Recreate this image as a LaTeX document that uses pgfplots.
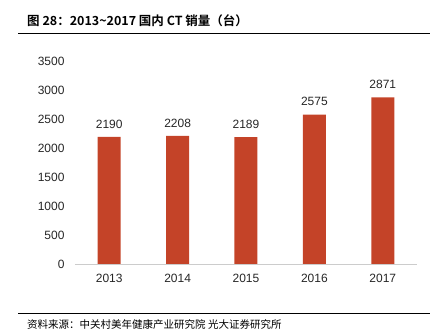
\documentclass[border=0pt]{standalone}
\usepackage{pgfplots}
\pgfplotsset{compat=1.18}
\usepackage{fontspec}
\setmainfont{Liberation Sans}
\newfontfamily\cjk{Noto Sans CJK SC}
\newfontfamily\cjkb{Noto Sans CJK SC Bold}
\definecolor{barc}{RGB}{196,67,40}
\begin{document}
\begin{tikzpicture}[x=1pt,y=1pt]
\path (0,0) rectangle (440,336);
\node[anchor=west,inner sep=0pt] at (27,315) {\cjkb\fontsize{12.5}{14}\selectfont 图 28：2013\textasciitilde2017 国内 CT 销量（台）};
\draw[black,line width=0.8pt] (18,303) -- (430,303);
\draw[black,line width=0.8pt] (18,23) -- (430,23);
\node[anchor=west,inner sep=0pt] at (27,11) {\cjk\fontsize{10.5}{12}\selectfont 资料来源：中关村美年健康产业研究院 光大证券研究所};
\begin{axis}[
  at={(75pt,72pt)}, anchor=south west,
  scale only axis, width=342pt, height=203pt,
  xmin=-0.5, xmax=4.5, ymin=0, ymax=3500,
  ytick={0,500,...,3500},
  xtick={0,1,2,3,4}, xticklabels={2013,2014,2015,2016,2017},
  extra x ticks={0.5,1.5,2.5,3.5}, extra x tick labels={},
  extra x tick style={major tick length=4pt, tick style={gray!40}, major tick style={yshift=-2pt}},
  axis x line*=bottom, axis y line*=left,
  x axis line style={gray!40, -},
  y axis line style={draw=none},
  major x tick style={draw=none},
  major y tick style={draw=none},
  yticklabel style={xshift=-7pt},
  xticklabel style={yshift=-7pt},
  ticklabel style={font=\fontsize{12}{14}\selectfont, text=black!85},
  /pgf/number format/assume math mode=true,
  /pgf/number format/set thousands separator={},
  clip=false,
]
\addplot[ybar, bar width=23pt, fill=barc, draw=none,
  nodes near coords, every node near coord/.append style={font=\fontsize{12}{14}\selectfont, text=black!85, yshift=5pt},
  /pgf/number format/set thousands separator={}]
  coordinates {(0,2190) (1,2208) (2,2189) (3,2575) (4,2871)};
\end{axis}
\end{tikzpicture}
\end{document}
